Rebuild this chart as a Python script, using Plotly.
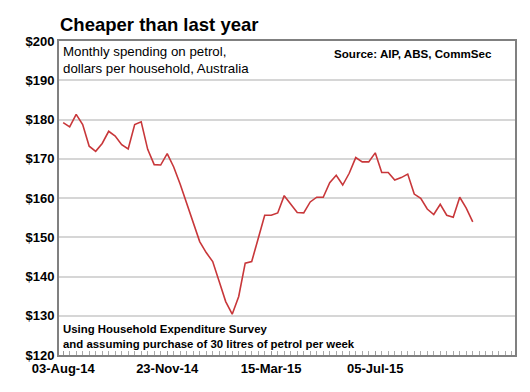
import plotly.graph_objects as go
import pandas as pd

start_date = "2014-08-03"
n_weeks = 64
spending = [179.2, 178.1, 181.3, 178.7, 173.2, 171.9, 173.9, 177.0, 175.8, 173.6,
            172.5, 178.7, 179.4, 172.4, 168.5, 168.4, 171.3, 167.9, 163.5, 158.6,
            153.5, 148.9, 146.1, 143.8, 138.7, 133.6, 130.4, 134.9, 143.4, 143.8,
            149.7, 155.6, 155.6, 156.2, 160.6, 158.3, 156.3, 156.2, 159.0, 160.2,
            160.2, 163.9, 165.8, 163.3, 166.3, 170.3, 169.2, 169.2, 171.5, 166.5,
            166.5, 164.6, 165.2, 166.1, 161.0, 159.9, 157.2, 155.8, 158.4, 155.6,
            155.1, 160.2, 157.4, 153.9]
tick_dates = ["2014-08-03", "2014-11-23", "2015-03-15", "2015-07-05"]
tick_labels = ["03-Aug-14", "23-Nov-14", "15-Mar-15", "05-Jul-15"]
y_ticks = [120, 130, 140, 150, 160, 170, 180, 190, 200]

dates = pd.date_range(start_date, periods=n_weeks, freq="7D")

FONT = "Liberation Sans, Arial, sans-serif"

fig = go.Figure()
fig.add_trace(go.Scatter(x=dates, y=spending, mode="lines",
                         line=dict(color="#c8373a", width=1.6),
                         hoverinfo="skip", showlegend=False))

x0 = pd.Timestamp(start_date) - pd.Timedelta(days=4.5)
x1 = pd.Timestamp(start_date) + pd.Timedelta(days=7 * 69.5)

fig.update_layout(
    width=530, height=392,
    margin=dict(l=59, r=15, t=41, b=37),
    paper_bgcolor="white", plot_bgcolor="white",
    font=dict(family=FONT, color="black"),
    xaxis=dict(
        range=[x0, x1], automargin=False,
        tickvals=tick_dates,
        ticktext=["<b>%s</b>" % t for t in tick_labels],
        tickfont=dict(size=13, family=FONT, color="black"),
        ticks="inside", ticklen=4, tickcolor="#999999",
        minor=dict(ticks="inside", dtick=7 * 86400000, tick0=start_date,
                   ticklen=4, tickcolor="#aaaaaa", showgrid=False),
        showgrid=False, showline=True, mirror=True,
        linecolor="#808080", linewidth=2, zeroline=False,
    ),
    yaxis=dict(
        range=[120, 200], automargin=False,
        tickvals=y_ticks,
        ticktext=["<b>$%d</b>" % v for v in y_ticks],
        tickfont=dict(size=13, family=FONT, color="black"),
        ticks="", showgrid=True, gridcolor="#d6d6d6",
        gridwidth=1.5,
        showline=True, mirror=True, linecolor="#808080", linewidth=2,
        zeroline=False,
    ),
    annotations=[
        dict(text="<b>Cheaper than last year</b>", xref="paper", yref="paper",
             x=0.0, y=1.0, xanchor="left", yanchor="bottom", xshift=-1, yshift=4,
             showarrow=False, font=dict(size=18.5, family=FONT)),
        dict(text="Monthly spending on petrol,<br>dollars per household, Australia",
             xref="paper", yref="paper", x=0.0, y=1.0, xanchor="left", yanchor="top",
             xshift=2, yshift=-1, align="left", showarrow=False,
             font=dict(size=13.3, family=FONT)),
        dict(text="<b>Source: AIP, ABS, CommSec</b>", xref="paper", yref="paper",
             x=1.0, y=1.0, xanchor="right", yanchor="top", xshift=-21, yshift=-4,
             showarrow=False, font=dict(size=11.6, family=FONT)),
        dict(text="<b>Using Household Expenditure Survey<br>and assuming purchase of 30 litres of petrol per week</b>",
             xref="paper", yref="paper", x=0.0, y=0.0, xanchor="left", yanchor="bottom",
             xshift=2, yshift=3, align="left", showarrow=False,
             font=dict(size=11.4, family=FONT)),
    ],
)

fig.write_html("out.html", config={"displayModeBar": False},
               post_script="document.body.style.margin='0px';document.body.style.overflow='hidden';")
